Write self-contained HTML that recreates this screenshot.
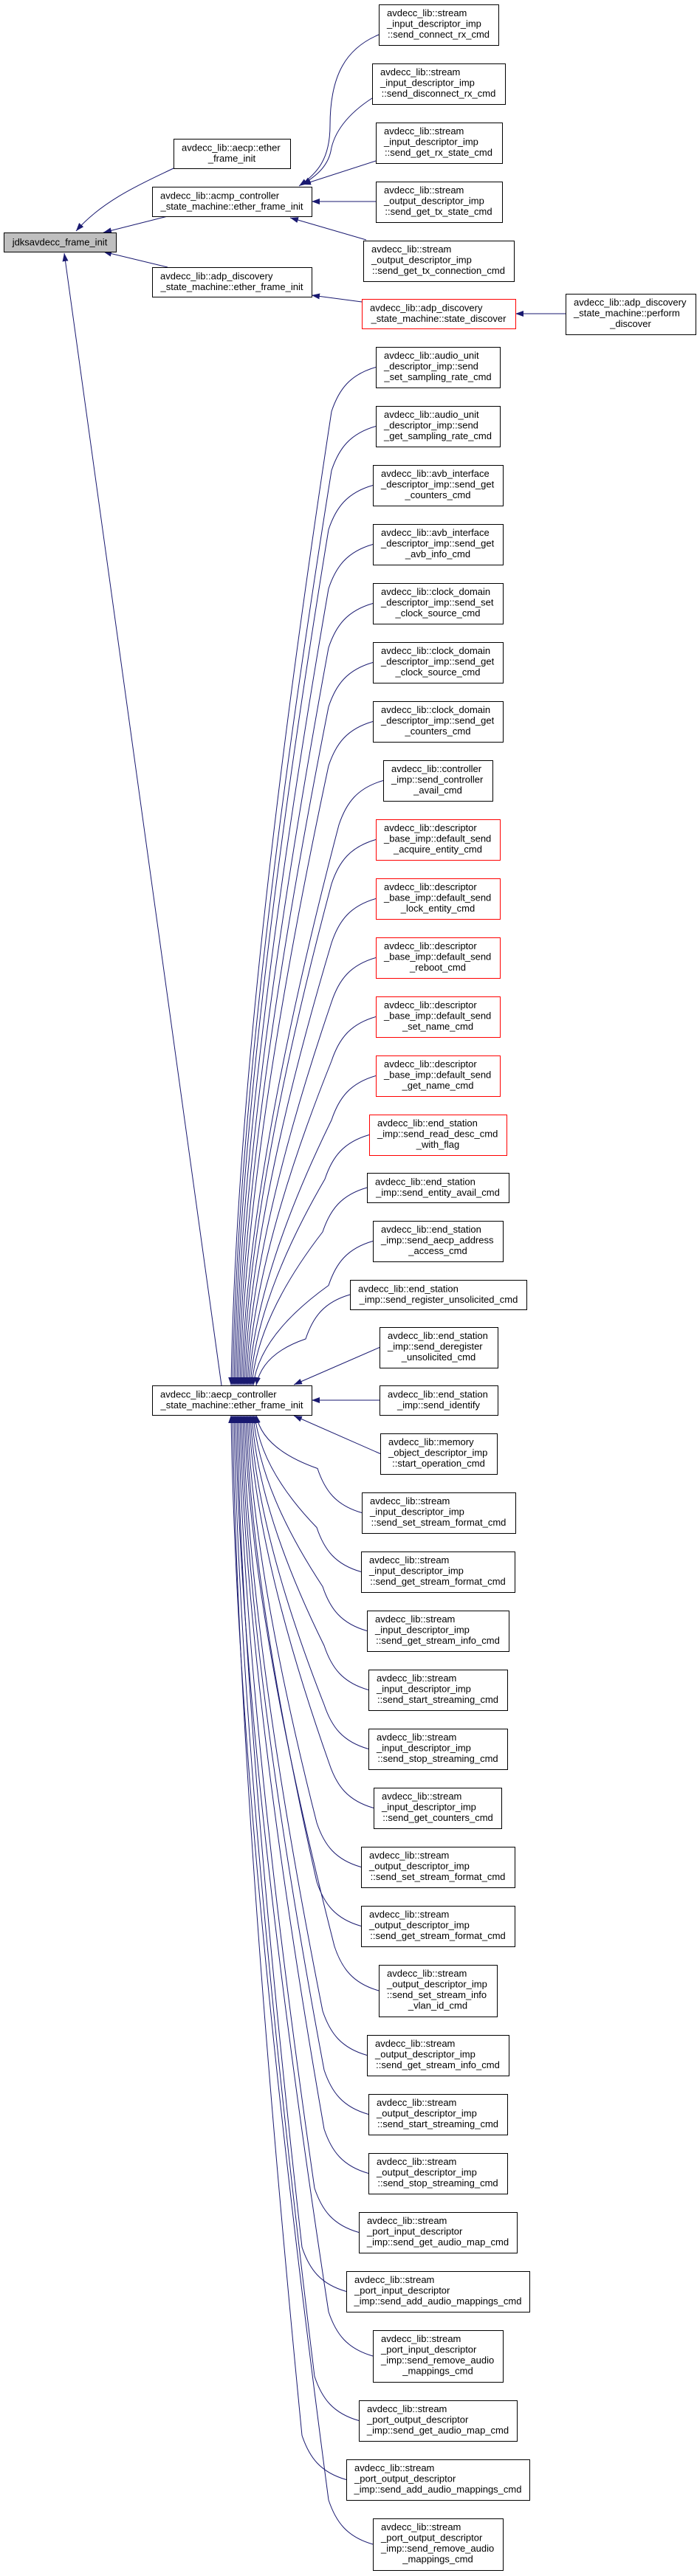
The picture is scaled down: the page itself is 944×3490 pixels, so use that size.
<!DOCTYPE html>
<html><head><meta charset="utf-8"><style>
html,body{margin:0;padding:0;background:#fff;}
svg{display:block;}
text{font-family:"Liberation Sans",Arial,sans-serif;font-size:13px;fill:#000;}
.n{fill:#fff;stroke:#000;stroke-width:1;}
.r{fill:#fff;stroke:#ff0000;stroke-width:1;}
.e{fill:none;stroke:#191970;stroke-width:1;marker-end:url(#a);}
.m{text-anchor:middle;}
</style></head><body>
<svg width="944" height="3490" viewBox="0 0 944 3490" xmlns="http://www.w3.org/2000/svg">
<defs><marker id="a" markerWidth="11" markerHeight="8" refX="11" refY="4" orient="auto" markerUnits="userSpaceOnUse"><path d="M0,0 L11,4 L0,8 z" fill="#191970"/></marker></defs>

<path class="e" d="M235 228 C200 245 140 270 103 313"/>
<path class="e" d="M227 293 L140 315"/>
<path class="e" d="M227 362 L140 341"/>
<path class="e" d="M300 1877 L87 343"/>
<path class="e" d="M513 47 C470 65 447 100 447 170 C447 215 430 235 405 252"/>
<path class="e" d="M504 133 C470 155 452 180 448 205 C443 228 425 240 410 250"/>
<path class="e" d="M509 218 L410 250"/>
<path class="e" d="M509 273 L422 273"/>
<path class="e" d="M496 325 L393 295"/>
<path class="e" d="M490 409 L422 400"/>
<path class="e" d="M766 425 L698 425"/>

<path class="e" d="M509 497.5 C474 507.5,459 527.5,449 557.5 Q321 1394,313 1877"/>
<path class="e" d="M509 577.5 C474 587.5,459 607.5,449 637.5 Q323 1422,315 1877"/>
<path class="e" d="M505 657.5 C470 667.5,455 687.5,445 717.5 Q325 1450,317 1877"/>
<path class="e" d="M505 737.5 C470 747.5,455 767.5,445 797.5 Q327 1478,319 1877"/>
<path class="e" d="M505 817.5 C470 827.5,455 847.5,445 877.5 Q329 1506,321 1877"/>
<path class="e" d="M505 897.5 C470 907.5,455 927.5,445 957.5 Q331 1534,323 1877"/>
<path class="e" d="M505 977.5 C470 987.5,455 1007.5,445 1037.5 Q333 1562,325 1877"/>
<path class="e" d="M519 1057.5 C484 1067.5,469 1087.5,459 1117.5 Q335 1590,327 1877"/>
<path class="e" d="M509 1137.5 C474 1147.5,459 1167.5,449 1197.5 Q337 1618,329 1877"/>
<path class="e" d="M509 1217.5 C474 1227.5,459 1247.5,449 1277.5 Q339 1646,331 1877"/>
<path class="e" d="M509 1297.5 C474 1307.5,459 1327.5,449 1357.5 Q341 1674,333 1877"/>
<path class="e" d="M509 1377.5 C474 1387.5,459 1407.5,449 1437.5 Q343 1702,335 1877"/>
<path class="e" d="M509 1457.5 C474 1467.5,459 1487.5,449 1517.5 Q345 1730,337 1877"/>
<path class="e" d="M500 1537.5 C465 1547.5,450 1567.5,440 1597.5 Q347 1758,339 1877"/>
<path class="e" d="M497 1609 C462 1619,447 1639,437 1669 Q349 1783,341 1877"/>
<path class="e" d="M505 1681.5 C470 1691.5,455 1711.5,445 1741.5 Q351 1809,343 1877"/>
<path class="e" d="M474 1754 C439 1764,424 1784,414 1814 Q355 1834,347 1877"/>
<path class="e" d="M514 1825.5 L398 1876"/>
<path class="e" d="M514 1897 L422 1897"/>
<path class="e" d="M515 1969.5 L398 1918"/>
<path class="e" d="M490 2049.5 C455 2039.5,440 2019.5,430 1989.5 Q355 1963,347 1917"/>
<path class="e" d="M489 2129.5 C454 2119.5,439 2099.5,429 2069.5 Q353 1991,345 1917"/>
<path class="e" d="M497 2209.5 C462 2199.5,447 2179.5,437 2149.5 Q351 2019,343 1917"/>
<path class="e" d="M499 2289.5 C464 2279.5,449 2259.5,439 2229.5 Q349 2047,341 1917"/>
<path class="e" d="M499 2369.5 C464 2359.5,449 2339.5,439 2309.5 Q347 2075,339 1917"/>
<path class="e" d="M506 2449.5 C471 2439.5,456 2419.5,446 2389.5 Q345 2103,337 1917"/>
<path class="e" d="M489 2529.5 C454 2519.5,439 2499.5,429 2469.5 Q343 2131,335 1917"/>
<path class="e" d="M489 2609.5 C454 2599.5,439 2579.5,429 2549.5 Q341 2159,333 1917"/>
<path class="e" d="M513 2697 C478 2687,463 2667,453 2637 Q339 2190,331 1917"/>
<path class="e" d="M497 2784.5 C462 2774.5,447 2754.5,437 2724.5 Q337 2221,329 1917"/>
<path class="e" d="M499 2864.5 C464 2854.5,449 2834.5,439 2804.5 Q335 2249,327 1917"/>
<path class="e" d="M499 2944.5 C464 2934.5,449 2914.5,439 2884.5 Q333 2277,325 1917"/>
<path class="e" d="M486 3024.5 C451 3014.5,436 2994.5,426 2964.5 Q331 2305,323 1917"/>
<path class="e" d="M469 3104.5 C434 3094.5,419 3074.5,409 3044.5 Q329 2333,321 1917"/>
<path class="e" d="M505 3192 C470 3182,455 3162,445 3132 Q327 2363,319 1917"/>
<path class="e" d="M486 3279.5 C451 3269.5,436 3249.5,426 3219.5 Q325 2394,317 1917"/>
<path class="e" d="M469 3359.5 C434 3349.5,419 3329.5,409 3299.5 Q323 2422,315 1917"/>
<path class="e" d="M505 3447 C470 3437,455 3417,445 3387 Q321 2452,313 1917"/>

<rect x="5.5" y="315.5" width="152" height="26" fill="#bfbfbf" stroke="#000"/>
<text class="m" x="81" y="332.5">jdksavdecc_frame_init</text>

<rect class="n" x="235.5" y="188.5" width="158" height="40"/>
<text x="246" y="204.5">avdecc_lib::aecp::ether</text><text class="m" x="314" y="219">_frame_init</text>

<rect class="n" x="206.5" y="253.5" width="216" height="40"/>
<text x="217" y="269.5">avdecc_lib::acmp_controller</text><text class="m" x="314" y="284">_state_machine::ether_frame_init</text>

<rect class="n" x="206.5" y="362.5" width="216" height="40"/>
<text x="217" y="378.5">avdecc_lib::adp_discovery</text><text class="m" x="314" y="393">_state_machine::ether_frame_init</text>

<rect class="n" x="206.5" y="1877.5" width="216" height="40"/>
<text x="217" y="1893.5">avdecc_lib::aecp_controller</text><text class="m" x="314" y="1908">_state_machine::ether_frame_init</text>

<rect class="r" x="490.5" y="405.5" width="208" height="40"/>
<text x="501" y="421.5">avdecc_lib::adp_discovery</text><text class="m" x="594" y="436">_state_machine::state_discover</text>

<rect class="n" x="766.5" y="398.5" width="176" height="55"/>
<text x="777" y="414">avdecc_lib::adp_discovery</text><text x="777" y="428.5">_state_machine::perform</text><text class="m" x="854" y="443">_discover</text>

<rect class="n" x="513.5" y="6.5" width="162" height="55"/>
<text x="524" y="22">avdecc_lib::stream</text><text x="524" y="36.5">_input_descriptor_imp</text><text class="m" x="594" y="51">::send_connect_rx_cmd</text>
<rect class="n" x="504.5" y="86.5" width="180" height="55"/>
<text x="515" y="102">avdecc_lib::stream</text><text x="515" y="116.5">_input_descriptor_imp</text><text class="m" x="594" y="131">::send_disconnect_rx_cmd</text>
<rect class="n" x="509.5" y="166.5" width="171" height="55"/>
<text x="520" y="182">avdecc_lib::stream</text><text x="520" y="196.5">_input_descriptor_imp</text><text class="m" x="594" y="211">::send_get_rx_state_cmd</text>
<rect class="n" x="509.5" y="246.5" width="171" height="55"/>
<text x="520" y="262">avdecc_lib::stream</text><text x="520" y="276.5">_output_descriptor_imp</text><text class="m" x="594" y="291">::send_get_tx_state_cmd</text>
<rect class="n" x="492.5" y="326.5" width="204" height="55"/>
<text x="503" y="342">avdecc_lib::stream</text><text x="503" y="356.5">_output_descriptor_imp</text><text class="m" x="594" y="371">::send_get_tx_connection_cmd</text>

<rect class="n" x="509.5" y="470.5" width="168" height="55"/>
<text x="520" y="486">avdecc_lib::audio_unit</text><text x="520" y="500.5">_descriptor_imp::send</text><text class="m" x="593" y="515">_set_sampling_rate_cmd</text>
<rect class="n" x="509.5" y="550.5" width="168" height="55"/>
<text x="520" y="566">avdecc_lib::audio_unit</text><text x="520" y="580.5">_descriptor_imp::send</text><text class="m" x="593" y="595">_get_sampling_rate_cmd</text>
<rect class="n" x="505.5" y="630.5" width="176" height="55"/>
<text x="516" y="646">avdecc_lib::avb_interface</text><text x="516" y="660.5">_descriptor_imp::send_get</text><text class="m" x="593" y="675">_counters_cmd</text>
<rect class="n" x="505.5" y="710.5" width="176" height="55"/>
<text x="516" y="726">avdecc_lib::avb_interface</text><text x="516" y="740.5">_descriptor_imp::send_get</text><text class="m" x="593" y="755">_avb_info_cmd</text>
<rect class="n" x="505.5" y="790.5" width="176" height="55"/>
<text x="516" y="806">avdecc_lib::clock_domain</text><text x="516" y="820.5">_descriptor_imp::send_set</text><text class="m" x="593" y="835">_clock_source_cmd</text>
<rect class="n" x="505.5" y="870.5" width="176" height="55"/>
<text x="516" y="886">avdecc_lib::clock_domain</text><text x="516" y="900.5">_descriptor_imp::send_get</text><text class="m" x="593" y="915">_clock_source_cmd</text>
<rect class="n" x="505.5" y="950.5" width="176" height="55"/>
<text x="516" y="966">avdecc_lib::clock_domain</text><text x="516" y="980.5">_descriptor_imp::send_get</text><text class="m" x="593" y="995">_counters_cmd</text>
<rect class="n" x="519.5" y="1030.5" width="148" height="55"/>
<text x="530" y="1046">avdecc_lib::controller</text><text x="530" y="1060.5">_imp::send_controller</text><text class="m" x="593" y="1075">_avail_cmd</text>
<rect class="r" x="509.5" y="1110.5" width="168" height="55"/>
<text x="520" y="1126">avdecc_lib::descriptor</text><text x="520" y="1140.5">_base_imp::default_send</text><text class="m" x="593" y="1155">_acquire_entity_cmd</text>
<rect class="r" x="509.5" y="1190.5" width="168" height="55"/>
<text x="520" y="1206">avdecc_lib::descriptor</text><text x="520" y="1220.5">_base_imp::default_send</text><text class="m" x="593" y="1235">_lock_entity_cmd</text>
<rect class="r" x="509.5" y="1270.5" width="168" height="55"/>
<text x="520" y="1286">avdecc_lib::descriptor</text><text x="520" y="1300.5">_base_imp::default_send</text><text class="m" x="593" y="1315">_reboot_cmd</text>
<rect class="r" x="509.5" y="1350.5" width="168" height="55"/>
<text x="520" y="1366">avdecc_lib::descriptor</text><text x="520" y="1380.5">_base_imp::default_send</text><text class="m" x="593" y="1395">_set_name_cmd</text>
<rect class="r" x="509.5" y="1430.5" width="168" height="55"/>
<text x="520" y="1446">avdecc_lib::descriptor</text><text x="520" y="1460.5">_base_imp::default_send</text><text class="m" x="593" y="1475">_get_name_cmd</text>
<rect class="r" x="500.5" y="1510.5" width="186" height="55"/>
<text x="511" y="1526">avdecc_lib::end_station</text><text x="511" y="1540.5">_imp::send_read_desc_cmd</text><text class="m" x="593" y="1555">_with_flag</text>
<rect class="n" x="497.5" y="1589.5" width="192" height="40"/>
<text x="508" y="1605.5">avdecc_lib::end_station</text><text class="m" x="593" y="1620">_imp::send_entity_avail_cmd</text>
<rect class="n" x="505.5" y="1654.5" width="176" height="55"/>
<text x="516" y="1670">avdecc_lib::end_station</text><text x="516" y="1684.5">_imp::send_aecp_address</text><text class="m" x="593" y="1699">_access_cmd</text>
<rect class="n" x="474.5" y="1734.5" width="239" height="40"/>
<text x="485" y="1750.5">avdecc_lib::end_station</text><text class="m" x="594" y="1765">_imp::send_register_unsolicited_cmd</text>
<rect class="n" x="514.5" y="1798.5" width="160" height="55"/>
<text x="525" y="1814">avdecc_lib::end_station</text><text x="525" y="1828.5">_imp::send_deregister</text><text class="m" x="594" y="1843">_unsolicited_cmd</text>
<rect class="n" x="514.5" y="1877.5" width="160" height="40"/>
<text x="525" y="1893.5">avdecc_lib::end_station</text><text class="m" x="594" y="1908">_imp::send_identify</text>
<rect class="n" x="515.5" y="1942.5" width="158" height="55"/>
<text x="526" y="1958">avdecc_lib::memory</text><text x="526" y="1972.5">_object_descriptor_imp</text><text class="m" x="594" y="1987">::start_operation_cmd</text>
<rect class="n" x="490.5" y="2022.5" width="208" height="55"/>
<text x="501" y="2038">avdecc_lib::stream</text><text x="501" y="2052.5">_input_descriptor_imp</text><text class="m" x="594" y="2067">::send_set_stream_format_cmd</text>
<rect class="n" x="489.5" y="2102.5" width="208" height="55"/>
<text x="500" y="2118">avdecc_lib::stream</text><text x="500" y="2132.5">_input_descriptor_imp</text><text class="m" x="593" y="2147">::send_get_stream_format_cmd</text>
<rect class="n" x="497.5" y="2182.5" width="192" height="55"/>
<text x="508" y="2198">avdecc_lib::stream</text><text x="508" y="2212.5">_input_descriptor_imp</text><text class="m" x="593" y="2227">::send_get_stream_info_cmd</text>
<rect class="n" x="499.5" y="2262.5" width="188" height="55"/>
<text x="510" y="2278">avdecc_lib::stream</text><text x="510" y="2292.5">_input_descriptor_imp</text><text class="m" x="593" y="2307">::send_start_streaming_cmd</text>
<rect class="n" x="499.5" y="2342.5" width="188" height="55"/>
<text x="510" y="2358">avdecc_lib::stream</text><text x="510" y="2372.5">_input_descriptor_imp</text><text class="m" x="593" y="2387">::send_stop_streaming_cmd</text>
<rect class="n" x="506.5" y="2422.5" width="173" height="55"/>
<text x="517" y="2438">avdecc_lib::stream</text><text x="517" y="2452.5">_input_descriptor_imp</text><text class="m" x="593" y="2467">::send_get_counters_cmd</text>
<rect class="n" x="489.5" y="2502.5" width="208" height="55"/>
<text x="500" y="2518">avdecc_lib::stream</text><text x="500" y="2532.5">_output_descriptor_imp</text><text class="m" x="593" y="2547">::send_set_stream_format_cmd</text>
<rect class="n" x="489.5" y="2582.5" width="208" height="55"/>
<text x="500" y="2598">avdecc_lib::stream</text><text x="500" y="2612.5">_output_descriptor_imp</text><text class="m" x="593" y="2627">::send_get_stream_format_cmd</text>
<rect class="n" x="513.5" y="2662.5" width="160" height="70"/>
<text x="524" y="2678">avdecc_lib::stream</text><text x="524" y="2692.5">_output_descriptor_imp</text><text x="524" y="2707">::send_set_stream_info</text><text class="m" x="593" y="2721.5">_vlan_id_cmd</text>
<rect class="n" x="497.5" y="2757.5" width="192" height="55"/>
<text x="508" y="2773">avdecc_lib::stream</text><text x="508" y="2787.5">_output_descriptor_imp</text><text class="m" x="593" y="2802">::send_get_stream_info_cmd</text>
<rect class="n" x="499.5" y="2837.5" width="188" height="55"/>
<text x="510" y="2853">avdecc_lib::stream</text><text x="510" y="2867.5">_output_descriptor_imp</text><text class="m" x="593" y="2882">::send_start_streaming_cmd</text>
<rect class="n" x="499.5" y="2917.5" width="188" height="55"/>
<text x="510" y="2933">avdecc_lib::stream</text><text x="510" y="2947.5">_output_descriptor_imp</text><text class="m" x="593" y="2962">::send_stop_streaming_cmd</text>
<rect class="n" x="486.5" y="2997.5" width="214" height="55"/>
<text x="497" y="3013">avdecc_lib::stream</text><text x="497" y="3027.5">_port_input_descriptor</text><text class="m" x="593" y="3042">_imp::send_get_audio_map_cmd</text>
<rect class="n" x="469.5" y="3077.5" width="248" height="55"/>
<text x="480" y="3093">avdecc_lib::stream</text><text x="480" y="3107.5">_port_input_descriptor</text><text class="m" x="593" y="3122">_imp::send_add_audio_mappings_cmd</text>
<rect class="n" x="505.5" y="3157.5" width="176" height="70"/>
<text x="516" y="3173">avdecc_lib::stream</text><text x="516" y="3187.5">_port_input_descriptor</text><text x="516" y="3202">_imp::send_remove_audio</text><text class="m" x="593" y="3216.5">_mappings_cmd</text>
<rect class="n" x="486.5" y="3252.5" width="214" height="55"/>
<text x="497" y="3268">avdecc_lib::stream</text><text x="497" y="3282.5">_port_output_descriptor</text><text class="m" x="593" y="3297">_imp::send_get_audio_map_cmd</text>
<rect class="n" x="469.5" y="3332.5" width="248" height="55"/>
<text x="480" y="3348">avdecc_lib::stream</text><text x="480" y="3362.5">_port_output_descriptor</text><text class="m" x="593" y="3377">_imp::send_add_audio_mappings_cmd</text>
<rect class="n" x="505.5" y="3412.5" width="176" height="70"/>
<text x="516" y="3428">avdecc_lib::stream</text><text x="516" y="3442.5">_port_output_descriptor</text><text x="516" y="3457">_imp::send_remove_audio</text><text class="m" x="593" y="3471.5">_mappings_cmd</text>
</svg>
</body></html>
